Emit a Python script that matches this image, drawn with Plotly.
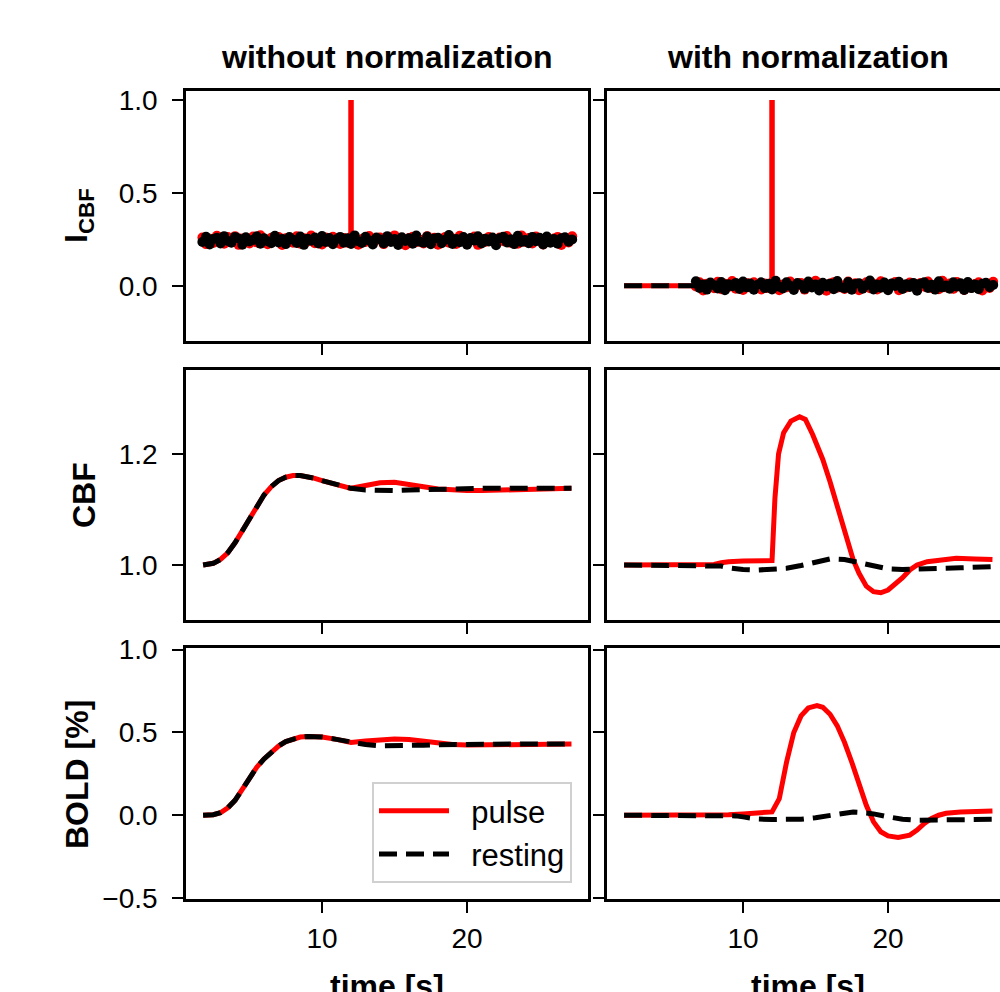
import numpy as np
import plotly.graph_objects as go
from plotly.subplots import make_subplots

RED = '#ff0000'
BLACK = '#000000'
FONT = 'Liberation Sans, Arial, sans-serif'
DASH = '18px,9px'

# ---------------- data ----------------
# input I_CBF: noisy baseline, pulse at t = 12 s
I_BASE = 0.245
T_NOISE = np.round(np.arange(1.75, 27.26, 0.25), 2)
N_PULSE = [0.014, -0.021, 0.008, -0.015, 0.024, -0.006, -0.019, 0.017, -0.011, 0.022,
           -0.025, 0.009, 0.003, -0.017, 0.020, -0.012, 0.027, -0.008, -0.022, 0.013,
           -0.004, 0.018, -0.026, 0.011, 0.006, -0.014, 0.021, -0.019, 0.010, -0.007,
           0.025, -0.016, 0.004, -0.023, 0.015, -0.010, 0.019, -0.003, -0.020, 0.012,
           -0.013, 0.017, 0.016, -0.024, 0.007, -0.009, 0.023, -0.018, 0.002, 0.014,
           -0.021, 0.010, -0.005, 0.026, -0.015, 0.008, -0.027, 0.012, 0.019, -0.011,
           0.003, -0.018, 0.022, -0.008, 0.013, -0.024, 0.006, 0.018, -0.014, 0.009,
           -0.020, 0.024, -0.002, -0.016, 0.011, 0.020, -0.025, 0.005, -0.010, 0.017,
           0.007, -0.022, 0.015, -0.006, 0.023, -0.013, 0.001, -0.019, 0.026, -0.009,
           0.012, -0.017, 0.020, -0.004, -0.023, 0.014, -0.011, 0.009, 0.018, -0.026,
           0.006, -0.012, 0.021]
N_REST = [-0.010, 0.019, -0.023, 0.006, 0.013, -0.017, 0.022, -0.004, -0.014, 0.018,
          0.009, -0.024, 0.016, -0.007, 0.002, 0.021, -0.019, 0.011, -0.005, -0.016,
          0.024, -0.012, 0.007, -0.021, 0.017, 0.003, -0.015, 0.020, -0.025, 0.008,
          -0.003, 0.015, -0.018, 0.023, -0.009, 0.012, -0.022, 0.005, 0.018, -0.013,
          0.010, -0.020, 0.026, -0.006, -0.015, 0.019, -0.001, -0.023, 0.014, 0.004,
          -0.017, 0.022, -0.010, 0.007, -0.026, 0.016, -0.004, 0.011, -0.019, 0.025,
          -0.008, -0.014, 0.020, -0.022, 0.009, 0.013, -0.016, 0.003, 0.028, -0.020,
          0.006, -0.011, 0.017, -0.024, 0.012, -0.002, 0.021, -0.018, 0.008, -0.007,
          0.015, -0.027, 0.010, 0.019, -0.012, 0.005, -0.021, 0.024, -0.009, 0.001,
          -0.016, 0.018, -0.005, 0.013, -0.023, 0.020, -0.013, 0.007, -0.019, 0.011,
          0.016, -0.008, 0.004]
NOISE_START = 6.75  # normalised input is flat before this
SPIKE_T = [12.0, 12.0]
SPIKE_TOP = 1.0

# without normalization
T_LEFT = [1.8, 2.5, 3.0, 3.5, 4.0, 4.5, 5.0, 5.5, 6.0, 6.5,
          7.0, 7.5, 8.0, 8.5, 9.0, 9.5, 10.0, 11.0, 12.0, 13.0,
          14.0, 15.0, 16.0, 17.0, 18.0, 19.0, 20.0, 21.0, 22.0, 23.0,
          24.0, 25.0, 26.0, 27.2]
CBF_L_REST = [1.000, 1.003, 1.010, 1.022, 1.040, 1.062, 1.085, 1.107, 1.126, 1.141,
              1.152, 1.158, 1.161, 1.161, 1.159, 1.156, 1.152, 1.144, 1.138, 1.135,
              1.134, 1.134, 1.135, 1.136, 1.137, 1.138, 1.138, 1.138, 1.138, 1.138,
              1.138, 1.138, 1.138, 1.138]
CBF_L_PULSE = [1.000, 1.003, 1.010, 1.022, 1.040, 1.062, 1.085, 1.107, 1.126, 1.141,
               1.152, 1.158, 1.161, 1.161, 1.159, 1.156, 1.152, 1.144, 1.138, 1.143,
               1.148, 1.149, 1.146, 1.141, 1.137, 1.135, 1.134, 1.134, 1.135, 1.136,
               1.137, 1.138, 1.138, 1.138]
BOLD_L_REST = [0.0, 0.003, 0.015, 0.045, 0.09, 0.155, 0.23, 0.29, 0.34, 0.383,
               0.418, 0.445, 0.462, 0.472, 0.476, 0.476, 0.472, 0.458, 0.44, 0.427,
               0.419, 0.418, 0.42, 0.423, 0.426, 0.428, 0.429, 0.43, 0.43, 0.43,
               0.43, 0.43, 0.43, 0.43]
BOLD_L_PULSE = [0.0, 0.003, 0.015, 0.045, 0.09, 0.155, 0.23, 0.29, 0.34, 0.383,
                0.418, 0.445, 0.462, 0.472, 0.476, 0.476, 0.472, 0.458, 0.44, 0.448,
                0.456, 0.461, 0.457, 0.446, 0.435, 0.427, 0.424, 0.424, 0.426, 0.428,
                0.429, 0.43, 0.43, 0.43]

# with normalization
T_CBF_R_PULSE = [1.8, 7.5, 8.0, 8.5, 9.0, 10.0, 11.0, 12.0, 12.2, 12.45,
                 12.8, 13.3, 13.9, 14.3, 14.8, 15.5, 16.0, 16.5, 17.0, 17.6,
                 18.0, 18.5, 19.0, 19.5, 20.0, 20.6, 21.0, 21.5, 22.0, 22.7,
                 23.5, 24.7, 26.0, 27.2]
CBF_R_PULSE = [1.0, 1.0, 1.001, 1.004, 1.006, 1.007, 1.008, 1.008, 1.12, 1.2,
               1.238, 1.259, 1.267, 1.262, 1.235, 1.19, 1.15, 1.105, 1.062, 1.009,
               0.985, 0.962, 0.952, 0.950, 0.955, 0.967, 0.977, 0.991, 1.0, 1.006,
               1.009, 1.012, 1.011, 1.01]
T_CBF_R_REST = [1.8, 8.0, 8.5, 9.0, 9.5, 10.0, 11.0, 12.0, 13.0, 14.0,
                15.0, 16.0, 17.0, 18.0, 19.0, 20.0, 21.0, 22.0, 23.0, 24.0,
                25.0, 26.0, 27.2]
CBF_R_REST = [1.0, 1.0, 0.998, 0.995, 0.993, 0.992, 0.991, 0.992, 0.994, 0.999,
              1.006, 1.011, 1.010, 1.004, 0.997, 0.993, 0.992, 0.992, 0.993, 0.994,
              0.995, 0.996, 0.997]
T_BOLD_R_PULSE = [1.8, 8.0, 9.0, 10.0, 11.0, 11.8, 12.0, 12.5, 13.0, 13.5,
                  14.0, 14.5, 15.1, 15.5, 16.0, 16.5, 17.0, 17.5, 18.0, 18.5,
                  19.0, 19.5, 20.0, 20.7, 21.5, 22.0, 22.5, 23.0, 23.5, 24.0,
                  25.0, 26.0, 27.2]
BOLD_R_PULSE = [0.0, 0.0, 0.003, 0.008, 0.013, 0.018, 0.02, 0.1, 0.32, 0.5,
                0.6, 0.648, 0.662, 0.652, 0.61, 0.54, 0.44, 0.32, 0.19, 0.06,
                -0.04, -0.1, -0.125, -0.134, -0.12, -0.09, -0.05, -0.02, 0.0, 0.012,
                0.02, 0.024, 0.025]
T_BOLD_R_REST = [1.8, 9.0, 9.5, 10.0, 10.5, 11.0, 12.0, 13.0, 14.0, 15.0,
                 16.0, 17.0, 17.6, 18.0, 19.0, 20.0, 21.0, 22.0, 23.0, 24.0,
                 25.0, 26.0, 27.2]
BOLD_R_REST = [0.0, 0.0, -0.004, -0.01, -0.018, -0.023, -0.026, -0.026, -0.024, -0.015,
               0.0, 0.014, 0.02, 0.018, 0.008, -0.01, -0.024, -0.03, -0.03, -0.028,
               -0.026, -0.025, -0.025]

# ---------------- figure ----------------
fig = make_subplots(rows=3, cols=2)


def line(x, y, color, row, col, dash=None, width=5, name=None, legend=False):
    fig.add_trace(go.Scatter(x=x, y=y, mode='lines', name=name, showlegend=legend,
                             line=dict(color=color, width=width, dash=dash)),
                  row=row, col=col)


def noise(x, y, color, row, col):
    # dense jittery trace: line plus round dots gives the blobby band
    fig.add_trace(go.Scatter(x=x, y=y, mode='lines+markers', showlegend=False,
                             line=dict(color=color, width=5),
                             marker=dict(color=color, size=10, line_width=0)),
                  row=row, col=col)


noise_p = np.array(N_PULSE)
noise_r = np.array(N_REST)
after = T_NOISE >= NOISE_START

# row 1 : I_CBF
noise(T_NOISE, I_BASE + noise_p, RED, 1, 1)
line(SPIKE_T, [I_BASE, SPIKE_TOP], RED, 1, 1, width=5.5)
noise(T_NOISE, I_BASE + noise_r, BLACK, 1, 1)

line([1.8, NOISE_START], [0, 0], RED, 1, 2)
noise(T_NOISE[after], noise_p[after], RED, 1, 2)
line(SPIKE_T, [0, SPIKE_TOP], RED, 1, 2, width=5.5)
line([1.8, NOISE_START], [0, 0], BLACK, 1, 2, dash=DASH)
noise(T_NOISE[after], noise_r[after], BLACK, 1, 2)

# row 2 : CBF
line(T_LEFT, CBF_L_PULSE, RED, 2, 1)
line(T_LEFT, CBF_L_REST, BLACK, 2, 1, dash=DASH)
line(T_CBF_R_PULSE, CBF_R_PULSE, RED, 2, 2)
line(T_CBF_R_REST, CBF_R_REST, BLACK, 2, 2, dash=DASH)

# row 3 : BOLD
line(T_LEFT, BOLD_L_PULSE, RED, 3, 1, name='\u00a0\u00a0pulse', legend=True)
line(T_LEFT, BOLD_L_REST, BLACK, 3, 1, dash=DASH, name='\u00a0\u00a0resting', legend=True)
line(T_BOLD_R_PULSE, BOLD_R_PULSE, RED, 3, 2)
line(T_BOLD_R_REST, BOLD_R_REST, BLACK, 3, 2, dash=DASH)

# ---------------- axes ----------------
W, H = 1000, 992
col_dom = {1: [186 / W, 588 / W], 2: [607 / W, 1.0]}
col_rng = {1: [0.62, 28.34], 2: [0.62, 27.72]}
row_dom = {1: [1 - 341 / H, 1 - 91 / H], 2: [1 - 620 / H, 1 - 370 / H], 3: [1 - 899 / H, 1 - 648 / H]}
row_rng = {1: [-0.298, 1.049], 2: [0.901, 1.351], 3: [-0.506, 1.01]}
row_ticks = {1: ([0, 0.5, 1.0], ['0.0', '0.5', '1.0']),
             2: ([1.0, 1.2], ['1.0', '1.2']),
             3: ([-0.5, 0, 0.5, 1.0], ['\u22120.5', '0.0', '0.5', '1.0'])}

tick_font = dict(family=FONT, size=28, color='black')
for r in (1, 2, 3):
    for c in (1, 2):
        fig.update_xaxes(row=r, col=c, domain=col_dom[c], range=col_rng[c], automargin=False,
                         showline=True, linecolor='black', linewidth=2.5, mirror=True,
                         ticks='outside', ticklen=11, tickwidth=2, tickcolor='black',
                         tickvals=[10, 20], showticklabels=(r == 3), ticklabelstandoff=2,
                         showgrid=False, zeroline=False, tickfont=tick_font)
        fig.update_yaxes(row=r, col=c, domain=row_dom[r], range=row_rng[r], automargin=False,
                         showline=True, linecolor='black', linewidth=2.5, mirror=(c == 1),
                         ticks='outside', ticklen=11, tickwidth=2, tickcolor='black',
                         tickvals=row_ticks[r][0], ticktext=row_ticks[r][1],
                         showticklabels=(c == 1), ticklabelstandoff=9,
                         showgrid=False, zeroline=False, tickfont=tick_font)

bold = dict(family=FONT, size=32, color='black')
ann = [
    dict(text='<b>without normalization</b>', x=387 / W, y=1 - 57 / H),
    dict(text='<b>with normalization</b>', x=808 / W, y=1 - 57 / H),
    dict(text='<b>I<sub>CBF</sub></b>', x=78 / W, y=1 - 216 / H, textangle=-90),
    dict(text='<b>CBF</b>', x=84 / W, y=1 - 495 / H, textangle=-90),
    dict(text='<b>BOLD [%]</b>', x=77 / W, y=1 - 775 / H, textangle=-90),
    dict(text='<b>time [s]</b>', x=387 / W, y=1 - 986 / H),
    dict(text='<b>time [s]</b>', x=808 / W, y=1 - 986 / H),
]
for a in ann:
    a.update(xref='paper', yref='paper', showarrow=False, font=bold,
             xanchor='center', yanchor='middle')

fig.update_layout(
    width=W, height=H,
    margin=dict(l=0, r=0, t=0, b=0),
    paper_bgcolor='white', plot_bgcolor='white',
    annotations=ann,
    showlegend=True,
    legend=dict(x=572 / W, y=1 - 883 / H, xanchor='right', yanchor='bottom',
                bgcolor='rgba(255,255,255,0.85)', bordercolor='#d0d0d0', borderwidth=2,
                font=dict(family=FONT, size=31, color='black'), itemwidth=70),
)

# no page margin, so the figure sits at the window's top-left corner
fig.write_html("out.html", config={'displayModeBar': False},
               post_script="document.body.style.margin='0';document.body.style.overflow='hidden';")
